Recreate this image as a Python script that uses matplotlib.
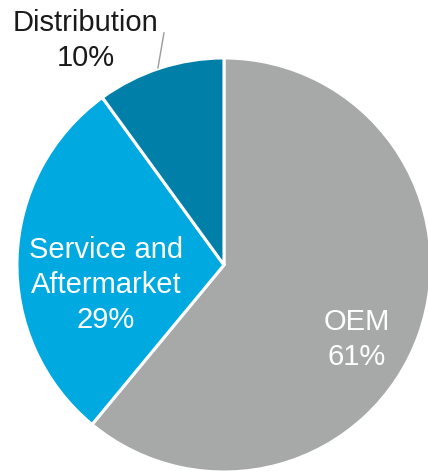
import matplotlib
matplotlib.use("Agg")
import matplotlib.pyplot as plt

plt.rcParams['font.family'] = ['Liberation Sans', 'DejaVu Sans']

# revenue split by segment
segments = ['OEM', 'Service and\nAftermarket', 'Distribution']
shares = [61, 29, 10]
colors = ['#A7A9A8', '#00A9E0', '#007FA9']
text_colors = ['white', 'white', '#1a1a1a']

# label anchor points (pie units, radius 1)
label_pos = [(0.643, -0.36), (-0.570, -0.097), (-0.667, 1.083)]

fig = plt.figure(figsize=(4.28, 4.73), dpi=100)
ax = fig.add_axes([0, 0, 1, 1])

wedges, _ = ax.pie(shares, colors=colors, startangle=90, counterclock=False,
                   radius=1.0, center=(0, 0),
                   wedgeprops=dict(edgecolor='white', linewidth=2.2))

for name, val, (x, y), tc in zip(segments, shares, label_pos, text_colors):
    ax.text(x, y, '%s\n%d%%' % (name, val), ha='center', va='center',
            fontsize=21, color=tc, linespacing=1.3)

# leader line for the small slice
ax.plot([-0.319, -0.290], [0.952, 1.121], color='#9a9a9a', lw=1.0)

ax.set_xlim(-1.082, 0.9855)
ax.set_ylim(-1.0048, 1.280)
ax.set_aspect('auto')
ax.axis('off')

plt.savefig('out.png', dpi=100)
